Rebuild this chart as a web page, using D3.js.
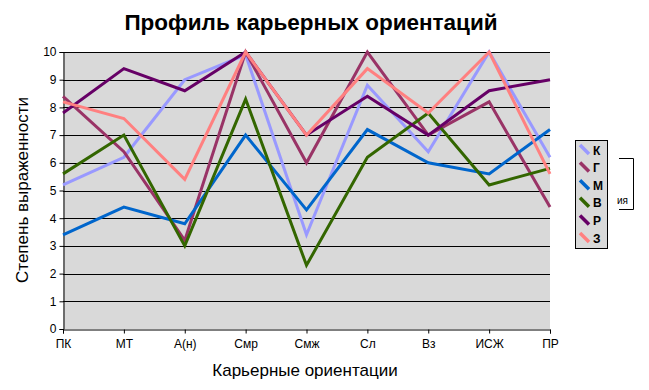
<!DOCTYPE html>
<html>
<head>
<meta charset="utf-8">
<script src="https://cdn.jsdelivr.net/npm/d3@7"></script>
<style>
  body { margin: 0; background: #fff; }
  svg { font-family: Arial, "Liberation Sans", sans-serif; }
</style>
</head>
<body>
<svg id="chart" width="649" height="390"></svg>
<script>
// categories and series
const categories = ["ПК", "МТ", "А(н)", "Смр", "Смж", "Сл", "Вз", "ИСЖ", "ПР"];
const seriesNames = ["К", "Г", "М", "В", "Р", "З"];
const seriesColors = ["#9999FF", "#993366", "#0066CC", "#336600", "#660066", "#FF8080"];
const valuesK = [5.2, 6.2, 9.0, 9.9, 3.4, 8.8, 6.4, 10, 6.2];
const valuesG = [8.4, 6.4, 3.2, 10, 6.0, 10, 7.0, 8.2, 4.4];
const valuesM = [3.4, 4.4, 3.8, 7.0, 4.3, 7.2, 6.0, 5.6, 7.2];
const valuesV = [5.6, 7.0, 3.0, 8.3, 2.3, 6.2, 7.8, 5.2, 5.8];
const valuesR = [7.8, 9.4, 8.6, 10, 7.0, 8.4, 7.0, 8.6, 9.0];
const valuesZ = [8.2, 7.6, 5.4, 10, 7.0, 9.4, 7.8, 10, 5.6];
const yTicks = [0, 1, 2, 3, 4, 5, 6, 7, 8, 9, 10];

const allValues = [valuesK, valuesG, valuesM, valuesV, valuesR, valuesZ];

const svg = d3.select("#chart");
const margin = { left: 63, right: 99, top: 52, bottom: 61 };
const width = 649, height = 390;

const x = d3.scalePoint()
    .domain(categories)
    .range([margin.left, width - margin.right]);

const y = d3.scaleLinear()
    .domain([0, 10])
    .range([height - margin.bottom, margin.top]);

// plot background
svg.append("rect")
    .attr("x", margin.left)
    .attr("y", margin.top)
    .attr("width", width - margin.right - margin.left)
    .attr("height", y(0) - y(10))
    .attr("fill", "#D9D9D9");

// gridlines
svg.append("g")
    .selectAll("line")
    .data(yTicks.slice(1))
    .enter()
    .append("line")
    .attr("x1", margin.left)
    .attr("x2", width - margin.right)
    .attr("y1", d => Math.round(y(d)) + 0.5)
    .attr("y2", d => Math.round(y(d)) + 0.5)
    .attr("stroke", "#000")
    .attr("stroke-width", 1);

// axes
const yAxis = svg.append("g")
    .attr("transform", `translate(${margin.left + 0.5},0)`)
    .call(d3.axisLeft(y).tickValues(yTicks).tickSize(4).tickPadding(3));

const xAxis = svg.append("g")
    .attr("transform", `translate(0,${Math.round(y(0)) + 0.5})`)
    .call(d3.axisBottom(x).tickSize(4).tickPadding(6));

[yAxis, xAxis].forEach(a => {
    a.select(".domain").attr("stroke", "#000");
    a.selectAll(".tick line").attr("stroke", "#000");
    a.selectAll("text")
        .attr("fill", "#000")
        .style("font-size", "12px")
        .style("font-family", "Arial, 'Liberation Sans', sans-serif");
});

// lines
const line = d3.line()
    .x((d, i) => x(categories[i]))
    .y(d => y(d));

svg.append("g")
    .selectAll("path")
    .data(allValues)
    .enter()
    .append("path")
    .attr("d", line)
    .attr("fill", "none")
    .attr("stroke", (d, i) => seriesColors[i])
    .attr("stroke-width", 3)
    .attr("stroke-linejoin", "miter");

// title
svg.append("text")
    .attr("x", 311)
    .attr("y", 30)
    .attr("text-anchor", "middle")
    .style("font-size", "22.5px")
    .style("font-weight", "bold")
    .text("Профиль карьерных ориентаций");

// axis titles
svg.append("text")
    .attr("x", 305)
    .attr("y", 376)
    .attr("text-anchor", "middle")
    .style("font-size", "17px")
    .text("Карьерные ориентации");

svg.append("text")
    .attr("transform", "translate(28,190) rotate(-90)")
    .attr("text-anchor", "middle")
    .style("font-size", "17px")
    .text("Степень выраженности");

// stray bracket behind the legend
svg.append("path")
    .attr("d", "M619,158.5 H633.5 V209.5 H619")
    .attr("fill", "none")
    .attr("stroke", "#000");

svg.append("text")
    .attr("x", 617)
    .attr("y", 204)
    .style("font-size", "10px")
    .text("ия");

// legend
const legend = svg.append("g");
legend.append("rect")
    .attr("x", 575.5)
    .attr("y", 140.5)
    .attr("width", 32)
    .attr("height", 108)
    .attr("fill", "#D9D9D9")
    .attr("stroke", "#000");

const items = legend.selectAll(".item")
    .data(seriesNames)
    .enter()
    .append("g")
    .attr("transform", (d, i) => `translate(579,${144 + i * 17.6})`);

items.append("line")
    .attr("x1", 1)
    .attr("y1", 1)
    .attr("x2", 10)
    .attr("y2", 10)
    .attr("stroke", (d, i) => seriesColors[i])
    .attr("stroke-width", 3.5);

items.append("text")
    .attr("x", 14)
    .attr("y", 10.5)
    .style("font-size", "12px")
    .style("font-weight", "bold")
    .text(d => d);
</script>
</body>
</html>
